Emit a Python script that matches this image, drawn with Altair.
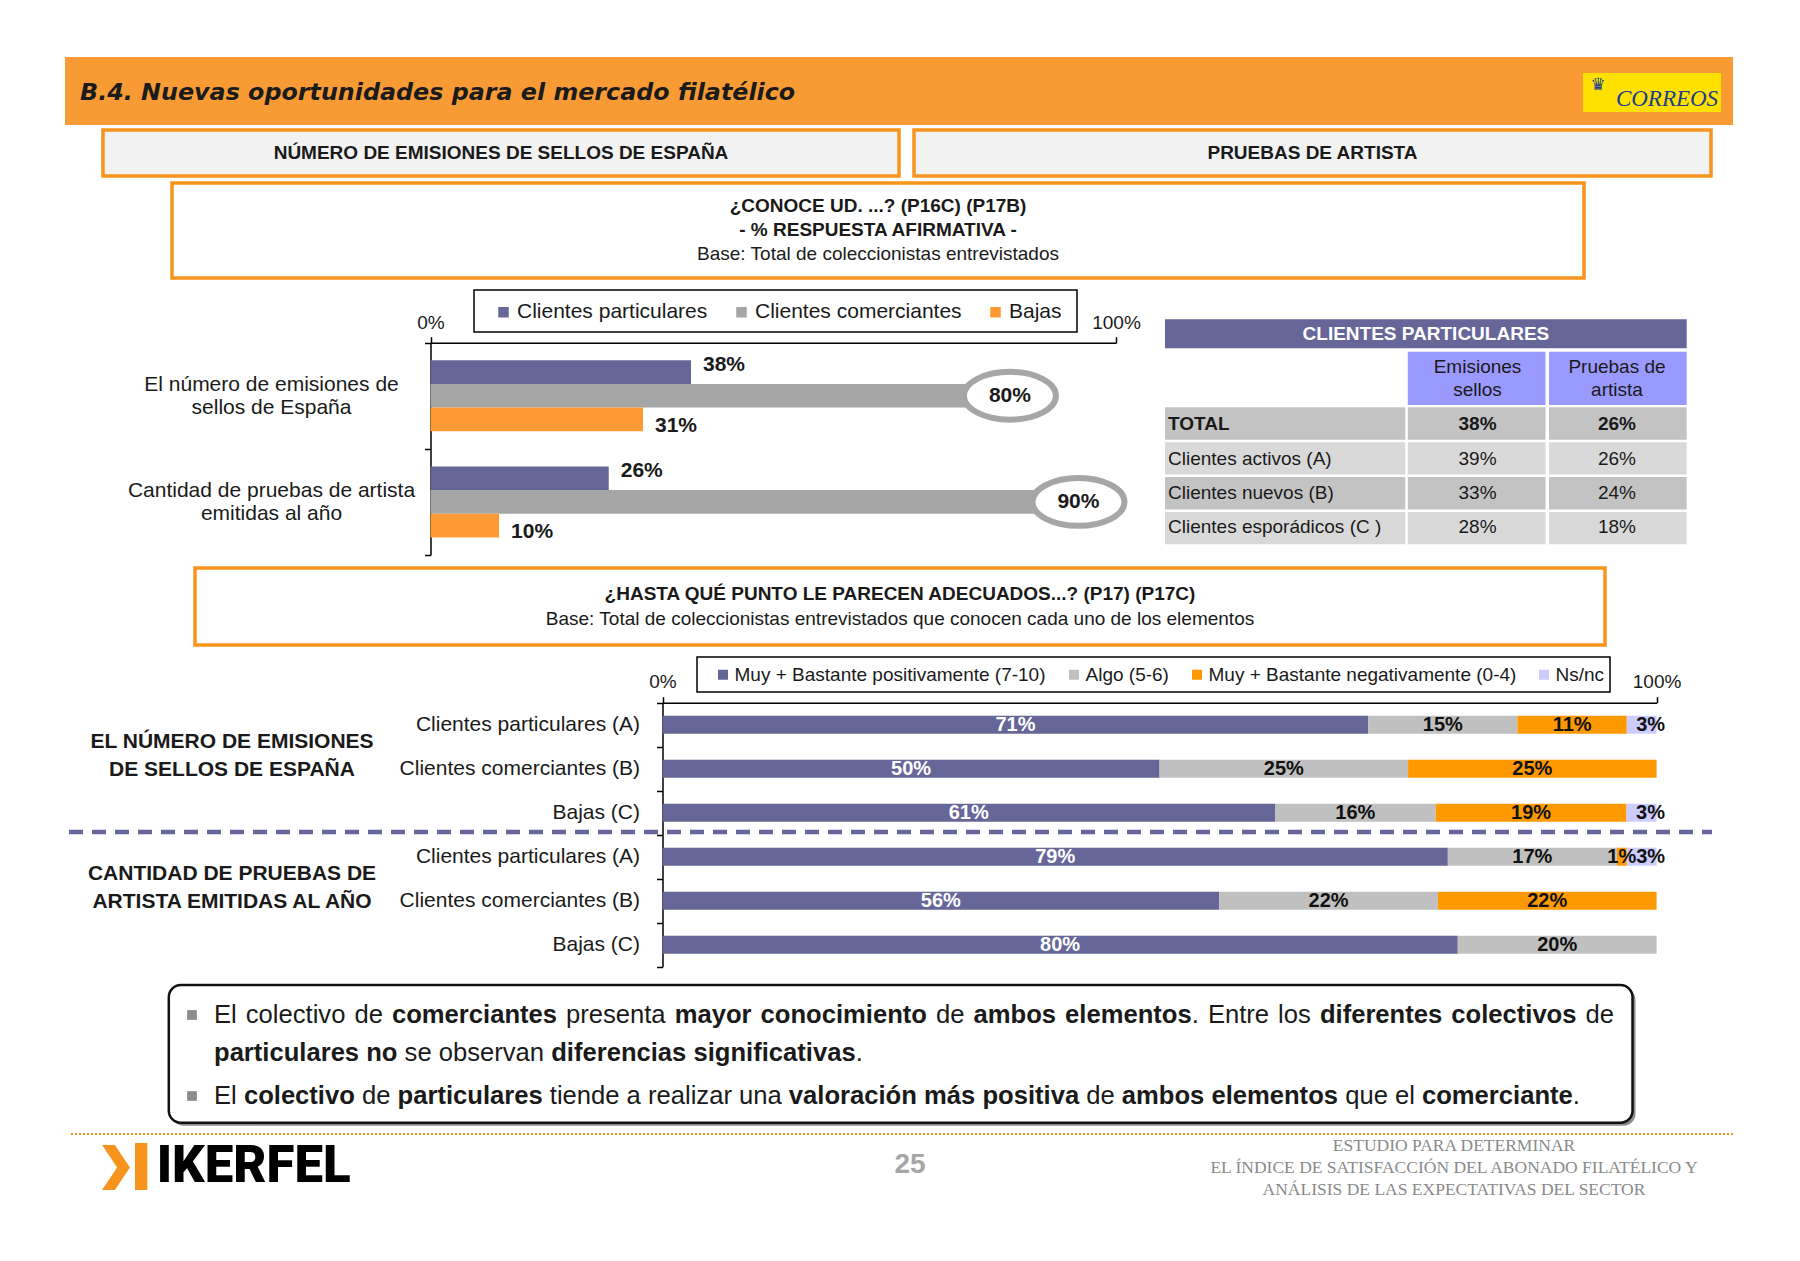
import re
import unicodedata
import altair as alt
import pandas as pd

# ------------------------------------------------------------------ data
title_text = "B.4. Nuevas oportunidades para el mercado filatélico"
section_titles = ["NÚMERO DE EMISIONES DE SELLOS DE ESPAÑA", "PRUEBAS DE ARTISTA"]
q1_lines = ["¿CONOCE UD. ...? (P16C) (P17B)", "- % RESPUESTA AFIRMATIVA -",
            "Base: Total de coleccionistas entrevistados"]
q2_lines = ["¿HASTA QUÉ PUNTO LE PARECEN ADECUADOS...? (P17) (P17C)",
            "Base: Total de coleccionistas entrevistados que conocen cada uno de los elementos"]

c1_cats = ["El número de emisiones de\nsellos de España",
           "Cantidad de pruebas de artista\nemitidas al año"]
c1_series = ["Clientes particulares", "Clientes comerciantes", "Bajas"]
c1_particulares = [38, 26]
c1_comerciantes = [80, 90]
c1_bajas = [31, 10]
c1_colors = ["#666699", "#a6a6a6", "#ff9933"]

tbl_title = "CLIENTES PARTICULARES"
tbl_cols = ["Emisiones\nsellos", "Pruebas de\nartista"]
tbl_rows = ["TOTAL", "Clientes activos (A)", "Clientes nuevos (B)", "Clientes esporádicos (C )"]
tbl_emisiones = [38, 39, 33, 28]
tbl_pruebas = [26, 26, 24, 18]

c2_groups = ["EL NÚMERO DE EMISIONES\nDE SELLOS DE ESPAÑA",
             "CANTIDAD DE PRUEBAS DE\nARTISTA EMITIDAS AL AÑO"]
c2_rows = ["Clientes particulares (A)", "Clientes comerciantes (B)", "Bajas (C)"]
c2_series = ["Muy + Bastante positivamente (7-10)", "Algo (5-6)",
             "Muy + Bastante negativamente (0-4)", "Ns/nc"]
c2_colors = ["#666699", "#c0c0c0", "#ff9900", "#ccccff"]
em_pos = [71, 50, 61]
em_algo = [15, 25, 16]
em_neg = [11, 25, 19]
em_ns = [3, 0, 3]
pa_pos = [79, 56, 80]
pa_algo = [17, 22, 20]
pa_neg = [1, 22, 0]
pa_ns = [3, 0, 0]

bullet_lines = [
    [("El colectivo de ", False), ("comerciantes", True), (" presenta ", False),
     ("mayor conocimiento", True), (" de ", False), ("ambos elementos", True),
     (". Entre los ", False), ("diferentes colectivos", True), (" de", False)],
    [("particulares no", True), (" se observan ", False),
     ("diferencias significativas", True), (".", False)],
    [("El ", False), ("colectivo", True), (" de ", False), ("particulares", True),
     (" tiende a realizar una ", False), ("valoración más positiva", True), (" de ", False),
     ("ambos elementos", True), (" que el ", False), ("comerciante", True), (".", False)],
]
page_number = "25"
footer_lines = ["ESTUDIO PARA DETERMINAR",
                "EL ÍNDICE DE SATISFACCIÓN DEL ABONADO FILATÉLICO Y",
                "ANÁLISIS DE LAS EXPECTATIVAS DEL SECTOR"]

# ------------------------------------------------------------------ helpers
W, H = 1784, 1240


def P(v):
    return round(v - 8, 1)


FONT = "Liberation Sans"
ORANGE = "#f7941d"
HEADER = "#f99b35"
INK = "#1a1a1a"
PURPLE = "#666699"
ONE = pd.DataFrame({"k": [0]})


def rect(x1, y1, x2, y2, **kw):
    return alt.Chart(ONE).mark_rect(**kw).encode(
        x=alt.value(P(x1)), x2=alt.value(P(x2)), y=alt.value(P(y1)), y2=alt.value(P(y2)))


def label(x, y, text, size=19, weight="normal", style="normal", align="center",
          color=INK, font=FONT, **kw):
    return alt.Chart(ONE).mark_text(
        text=text, fontSize=size, fontWeight=weight, fontStyle=style, align=align,
        baseline="middle", color=color, font=font, **kw).encode(
        x=alt.value(P(x)), y=alt.value(P(y)))


def hrule(x1, x2, y, **kw):
    return alt.Chart(ONE).mark_rule(**kw).encode(
        x=alt.value(P(x1)), x2=alt.value(P(x2)), y=alt.value(P(y)))


AX = dict(domainColor="#000000", domainWidth=1.5, tickColor="#000000", tickWidth=1.5,
          tickSize=6, grid=False, title=None, labelFont=FONT, labelColor=INK)

# ------------------------------------------------------------------ chart 1
rows = []
for i, cat in enumerate(c1_cats):
    for s, vals in zip(c1_series, [c1_particulares, c1_comerciantes, c1_bajas]):
        rows.append({"cat": cat, "series": s, "val": vals[i], "lbl": f"{vals[i]}%"})
df1 = pd.DataFrame(rows)

x1 = alt.Scale(domain=[0, 100], range=[P(430.5), P(1116)], nice=False, zero=True)
y1 = alt.Scale(domain=c1_cats, range=[P(342.7), P(555)], paddingInner=0, paddingOuter=0)
yo1 = alt.Scale(domain=c1_series, paddingInner=0, paddingOuter=0.74)

leg1 = alt.Legend(orient="none", legendX=P(493), legendY=P(312) - 10.5,
                  direction="horizontal", title=None, symbolType="square", symbolSize=110,
                  symbolStrokeWidth=0, labelFontSize=21, labelFont=FONT, labelColor=INK,
                  labelOffset=3, columnPadding=23, padding=0, labelLimit=600)

bars1 = alt.Chart(df1).mark_bar().encode(
    x=alt.X("val:Q", scale=x1,
            axis=alt.Axis(orient="top", offset=-P(342.7), values=[0, 100],
                          labelExpr="datum.value + '%'", labelFontSize=19, labelPadding=4,
                          labelFlush=False, **AX)),
    y=alt.Y("cat:N", scale=y1,
            axis=alt.Axis(orient="left", offset=-P(430.5), labels=False, tickBand="extent", **AX)),
    yOffset=alt.YOffset("series:N", scale=yo1),
    color=alt.Color("series:N", scale=alt.Scale(domain=c1_series, range=c1_colors), legend=leg1),
)

ELLIPSE = "M -1 0 A 1 0.52 0 1 1 1 0 A 1 0.52 0 1 1 -1 0 Z"
ring1 = alt.Chart(df1).transform_filter("datum.series == 'Clientes comerciantes'").mark_point(
    shape=ELLIPSE, size=8464, filled=True, fill="white", stroke="#a6a6a6", strokeWidth=6,
    opacity=1, fillOpacity=1, xOffset=31, yOffset=-3).encode(
    x=alt.X("val:Q", scale=x1, axis=None),
    y=alt.Y("cat:N", scale=y1, axis=None),
    yOffset=alt.YOffset("series:N", scale=yo1),
)
lbl1a = alt.Chart(df1).transform_filter("datum.series != 'Clientes comerciantes'").mark_text(
    align="left", baseline="middle", dx=12, fontSize=21, fontWeight="bold", font=FONT,
    color=INK).encode(
    x=alt.X("val:Q", scale=x1, axis=None),
    y=alt.Y("cat:N", scale=y1, axis=None),
    yOffset=alt.YOffset("series:N", scale=yo1),
    text="lbl:N",
)
lbl1b = alt.Chart(df1).transform_filter("datum.series == 'Clientes comerciantes'").mark_text(
    align="center", baseline="middle", dx=31, fontSize=21, fontWeight="bold", font=FONT,
    color=INK).encode(
    x=alt.X("val:Q", scale=x1, axis=None),
    y=alt.Y("cat:N", scale=y1, axis=None),
    yOffset=alt.YOffset("series:N", scale=yo1),
    text="lbl:N",
)
cats1 = alt.Chart(pd.DataFrame({"cat": c1_cats})).mark_text(
    align="center", baseline="middle", lineBreak="\n", lineHeight=23, fontSize=21, font=FONT,
    color=INK, dy=-11).encode(
    x=alt.value(P(271.5)),
    y=alt.Y("cat:N", scale=y1, axis=None),
    text="cat:N",
)

# ------------------------------------------------------------------ table
trows = []
for ri, r in enumerate(tbl_rows):
    for col, vals in zip(tbl_cols, [tbl_emisiones, tbl_pruebas]):
        trows.append({"row": r, "ri": ri, "col": col, "lbl": f"{vals[ri]}%"})
dft = pd.DataFrame(trows)
dfr = pd.DataFrame({"row": tbl_rows, "ri": list(range(len(tbl_rows)))})
dfc = pd.DataFrame({"col": tbl_cols})

tx = alt.Scale(domain=tbl_cols, range=[P(1407.8), P(1686.7)], paddingInner=0.025, paddingOuter=0)
ty = alt.Scale(domain=tbl_rows, range=[P(407.3), P(544.3)], paddingInner=0.07, paddingOuter=0)
shade = alt.when("datum.ri % 2 == 0").then(alt.value("#c3c3c3")).otherwise(alt.value("#d9d9d9"))

tcells = alt.Chart(dft).mark_rect().encode(
    x=alt.X("col:N", scale=tx, axis=None), y=alt.Y("row:N", scale=ty, axis=None), fill=shade)
tlabcells = alt.Chart(dfr).mark_rect().encode(
    x=alt.value(P(1165)), x2=alt.value(P(1405.3)),
    y=alt.Y("row:N", scale=ty, axis=None), fill=shade)
theads = alt.Chart(dfc).mark_rect(fill="#9999ff").encode(
    x=alt.X("col:N", scale=tx, axis=None), y=alt.value(P(351.7)), y2=alt.value(P(405)))
theadtxt = alt.Chart(dfc).mark_text(
    align="center", baseline="middle", lineBreak="\n", lineHeight=23, fontSize=19, font=FONT,
    color=INK).encode(x=alt.X("col:N", scale=tx, axis=None), y=alt.value(P(366.5)), text="col:N")
tlab_b = alt.Chart(dfr).transform_filter("datum.ri == 0").mark_text(
    align="left", baseline="middle", fontSize=19, fontWeight="bold", font=FONT, color=INK).encode(
    x=alt.value(P(1168)), y=alt.Y("row:N", scale=ty, axis=None), text="row:N")
tlab_n = alt.Chart(dfr).transform_filter("datum.ri > 0").mark_text(
    align="left", baseline="middle", fontSize=19, font=FONT, color=INK).encode(
    x=alt.value(P(1168)), y=alt.Y("row:N", scale=ty, axis=None), text="row:N")
tval_b = alt.Chart(dft).transform_filter("datum.ri == 0").mark_text(
    align="center", baseline="middle", fontSize=19, fontWeight="bold", font=FONT, color=INK).encode(
    x=alt.X("col:N", scale=tx, axis=None), y=alt.Y("row:N", scale=ty, axis=None), text="lbl:N")
tval_n = alt.Chart(dft).transform_filter("datum.ri > 0").mark_text(
    align="center", baseline="middle", fontSize=19, font=FONT, color=INK).encode(
    x=alt.X("col:N", scale=tx, axis=None), y=alt.Y("row:N", scale=ty, axis=None), text="lbl:N")

# ------------------------------------------------------------------ chart 2
c2_keys = [f"{g}|{r}" for g in ["E", "P"] for r in c2_rows]
rows2 = []
for g, sets in zip(["E", "P"], [[em_pos, em_algo, em_neg, em_ns], [pa_pos, pa_algo, pa_neg, pa_ns]]):
    for ri, r in enumerate(c2_rows):
        for si, (s, vals) in enumerate(zip(c2_series, sets)):
            v = vals[ri]
            if v > 0:
                rows2.append({"key": f"{g}|{r}", "series": s, "order": si, "val": v, "lbl": f"{v}%"})
df2 = pd.DataFrame(rows2)

x2s = alt.Scale(domain=[0, 1], range=[P(662.5), P(1656.6)], nice=False, zero=True)
y2s = alt.Scale(domain=c2_keys, range=[P(702.7), P(966.7)], paddingInner=0, paddingOuter=0)

leg2 = alt.Legend(orient="none", legendX=P(713.5), legendY=P(674.5) - 9.5,
                  direction="horizontal", title=None, symbolType="square", symbolSize=100,
                  symbolStrokeWidth=0, labelFontSize=19, labelFont=FONT, labelColor=INK,
                  labelOffset=2, columnPadding=18, padding=0, labelLimit=600)


def stacked(d):
    return alt.Chart(d).transform_stack(
        stack="val", groupby=["key"], as_=["x0", "x1"], offset="normalize",
        sort=[alt.SortField(field="order", order="ascending")])


bars2 = stacked(df2).mark_bar(size=18).encode(
    x=alt.X("x0:Q", scale=x2s,
            axis=alt.Axis(orient="top", offset=-P(702.7), values=[0, 1], format=".0%",
                          labelFontSize=19, labelPadding=5, labelFlush=False, **AX)),
    x2="x1:Q",
    y=alt.Y("key:N", scale=y2s,
            axis=alt.Axis(orient="left", offset=-P(662.5), tickBand="extent",
                          labelExpr="split(datum.value, '|')[1]", labelFontSize=21,
                          labelPadding=17, labelLimit=400, **AX)),
    color=alt.Color("series:N", scale=alt.Scale(domain=c2_series, range=c2_colors), legend=leg2),
)
lblcolor = alt.when("datum.order == 0").then(alt.value("white")).otherwise(alt.value("#111111"))
lbl2 = stacked(df2).transform_calculate(mid="(datum.x0 + datum.x1) / 2").transform_filter(
    "datum.order != 3").mark_text(
    align="center", baseline="middle", fontSize=20, fontWeight="bold", font=FONT).encode(
    x=alt.X("mid:Q", scale=x2s, axis=None), y=alt.Y("key:N", scale=y2s, axis=None),
    text="lbl:N", color=lblcolor)
lbl2ns = stacked(df2).transform_calculate(mid="(datum.x0 + datum.x1) / 2").transform_filter(
    "datum.order == 3").mark_text(
    align="center", baseline="middle", dx=9, fontSize=20, fontWeight="bold", font=FONT,
    color="#111111").encode(
    x=alt.X("mid:Q", scale=x2s, axis=None), y=alt.Y("key:N", scale=y2s, axis=None), text="lbl:N")
grp2 = alt.Chart(pd.DataFrame({"key": [f"E|{c2_rows[1]}", f"P|{c2_rows[1]}"], "txt": c2_groups})).mark_text(
    align="center", baseline="middle", lineBreak="\n", lineHeight=28, fontSize=21,
    fontWeight="bold", font=FONT, color=INK, dy=-27).encode(
    x=alt.value(P(232)), y=alt.Y("key:N", scale=y2s, axis=None), text="txt:N")

# ------------------------------------------------------------------ bullet text layout
LOW = "abcdefghijklmnopqrstuvwxyz"
UPP = "ABCDEFGHIJKLMNOPQRSTUVWXYZ"
W_REG = dict(zip(LOW, [556, 556, 500, 556, 556, 278, 556, 556, 222, 222, 500, 222, 833, 556, 556,
                       556, 556, 333, 500, 278, 556, 500, 722, 500, 500, 500]))
W_REG.update(zip(UPP, [667, 667, 722, 722, 667, 611, 778, 722, 278, 500, 667, 556, 833, 722, 778,
                       667, 778, 722, 667, 611, 722, 667, 944, 667, 667, 611]))
W_BLD = dict(zip(LOW, [556, 611, 556, 611, 556, 333, 611, 611, 278, 278, 556, 278, 889, 611, 611,
                       611, 611, 389, 556, 333, 611, 556, 778, 556, 556, 500]))
W_BLD.update(zip(UPP, [722, 722, 722, 722, 667, 611, 778, 722, 278, 556, 722, 611, 833, 722, 778,
                       667, 778, 722, 667, 611, 722, 667, 944, 667, 667, 611]))
for d in (W_REG, W_BLD):
    d.update({" ": 278, ".": 278, ",": 278, "-": 333})


def tw(s, bold, size):
    tbl = W_BLD if bold else W_REG
    return sum(tbl.get(unicodedata.normalize("NFD", ch)[0], 556) for ch in s) * size / 1000.0


BSIZE = 25.6
BX0, BX1 = 214, 1614
BY = [1015, 1053, 1096]
words = []
for li, line in enumerate(bullet_lines):
    toks = []
    for text, bold in line:
        for t in re.findall(r"\S+|\s+", text):
            toks.append((t, bold))
    natural = sum(tw(t, b, BSIZE) for t, b in toks)
    nsp = sum(t.count(" ") for t, b in toks)
    extra = (BX1 - BX0 - natural) / nsp if li == 0 and nsp else 0
    x = BX0
    for t, b in toks:
        if t.isspace():
            x += tw(t, b, BSIZE) + extra * t.count(" ")
        else:
            words.append({"w": t, "px": P(x), "py": P(BY[li]), "bold": b})
            x += tw(t, b, BSIZE)
dfw = pd.DataFrame(words)
wb = alt.Chart(dfw).transform_filter("datum.bold").mark_text(
    align="left", baseline="middle", fontSize=BSIZE, fontWeight="bold", font=FONT, color=INK).encode(
    x=alt.X("px:Q", scale=None), y=alt.Y("py:Q", scale=None), text="w:N")
wn = alt.Chart(dfw).transform_filter("!datum.bold").mark_text(
    align="left", baseline="middle", fontSize=BSIZE, font=FONT, color=INK).encode(
    x=alt.X("px:Q", scale=None), y=alt.Y("py:Q", scale=None), text="w:N")

CHEVRON = "M -0.62 -1 L -0.05 -1 L 0.62 0 L -0.05 1 L -0.62 1 L 0.05 0 Z"

# ------------------------------------------------------------------ assemble
layers = [
    rect(65, 57, 1733, 125, fill=HEADER),
    rect(1583, 73, 1721, 112, fill="#ffe100"),
    rect(103, 130, 899, 176, fill="#f2f2f2", stroke=ORANGE, strokeWidth=3.5),
    rect(914, 130, 1711, 176, fill="#f2f2f2", stroke=ORANGE, strokeWidth=3.5),
    rect(172, 183, 1584, 278, fill="white", stroke=ORANGE, strokeWidth=3.5),
    rect(474, 290, 1077, 332, fill="white", stroke="#000000", strokeWidth=1.5),
    rect(1165, 319.3, 1686.7, 348.3, fill=PURPLE),
    rect(195, 568, 1605, 645, fill="white", stroke=ORANGE, strokeWidth=3.5),
    rect(697, 657, 1610, 692, fill="white", stroke="#000000", strokeWidth=1.5),
    rect(171.8, 988, 1635.5, 1125.7, fill="#8c8c8c", cornerRadius=12),
    rect(168.8, 985, 1632.5, 1122.7, fill="white", stroke="#111111", strokeWidth=2.5, cornerRadius=12),
    # texts of the frame
    label(80, 93, title_text, size=23.8, weight="bold", style="italic", align="left",
          color="#1b1b1b", font="DejaVu Sans"),
    label(1667, 99, "CORREOS", size=23, style="italic", font="Liberation Serif", color="#1c3d8f"),
    label(1598, 85, "♛", size=17, font="DejaVu Sans", color="#1c3d8f"),
    label(501, 153, section_titles[0], weight="bold"),
    label(1312.5, 153, section_titles[1], weight="bold"),
    label(878, 205.5, q1_lines[0], weight="bold"),
    label(878, 229.5, q1_lines[1], weight="bold"),
    label(878, 253.5, q1_lines[2]),
    label(1425.9, 333.8, tbl_title, weight="bold", color="white"),
    label(900, 593.5, q2_lines[0], weight="bold"),
    label(900, 619, q2_lines[1]),
    # chart 1
    bars1, ring1, lbl1a, lbl1b, cats1,
    # table
    tcells, tlabcells, theads, theadtxt, tlab_b, tlab_n, tval_b, tval_n,
    # chart 2
    bars2, lbl2, lbl2ns, grp2,
    hrule(69, 1712, 832, stroke=PURPLE, strokeWidth=4.5, strokeDash=[14, 9]),
    # bullets
    alt.Chart(pd.DataFrame({"py": [P(BY[0]), P(BY[2])]})).mark_square(
        size=95, color="#8c8c8c", opacity=1).encode(x=alt.value(P(192)), y=alt.Y("py:Q", scale=None)),
    wb, wn,
    # footer
    hrule(71, 1733, 1134, stroke=ORANGE, strokeWidth=2, strokeDash=[2, 2]),
    alt.Chart(ONE).mark_point(shape=CHEVRON, size=2025, filled=True, fill=ORANGE,
                              strokeWidth=0, opacity=1).encode(
        x=alt.value(P(116)), y=alt.value(P(1167.5))),
    rect(135, 1143, 147.3, 1190, fill=ORANGE),
    label(156.7, 1167, "IKERFEL", size=51, weight=900, align="left", color="#000000", font="Roboto"),
    label(910, 1165, page_number, size=28, weight="bold", color="#a6a6a6"),
    label(1454, 1146, footer_lines[0], size=17.5, font="Liberation Serif", color="#8a8a8a"),
    label(1454, 1168, footer_lines[1], size=17.5, font="Liberation Serif", color="#8a8a8a"),
    label(1454, 1190, footer_lines[2], size=17.5, font="Liberation Serif", color="#8a8a8a"),
]

chart = alt.layer(*layers).resolve_scale(
    x="independent", y="independent", color="independent", yOffset="independent"
).resolve_axis(x="independent", y="independent").resolve_legend(color="independent").properties(
    width=W, height=H, autosize=alt.AutoSizeParams(type="none"), padding=0, background="white"
).configure_view(stroke=None)

chart.save("out.html", embed_options={"renderer": "svg", "actions": False})
